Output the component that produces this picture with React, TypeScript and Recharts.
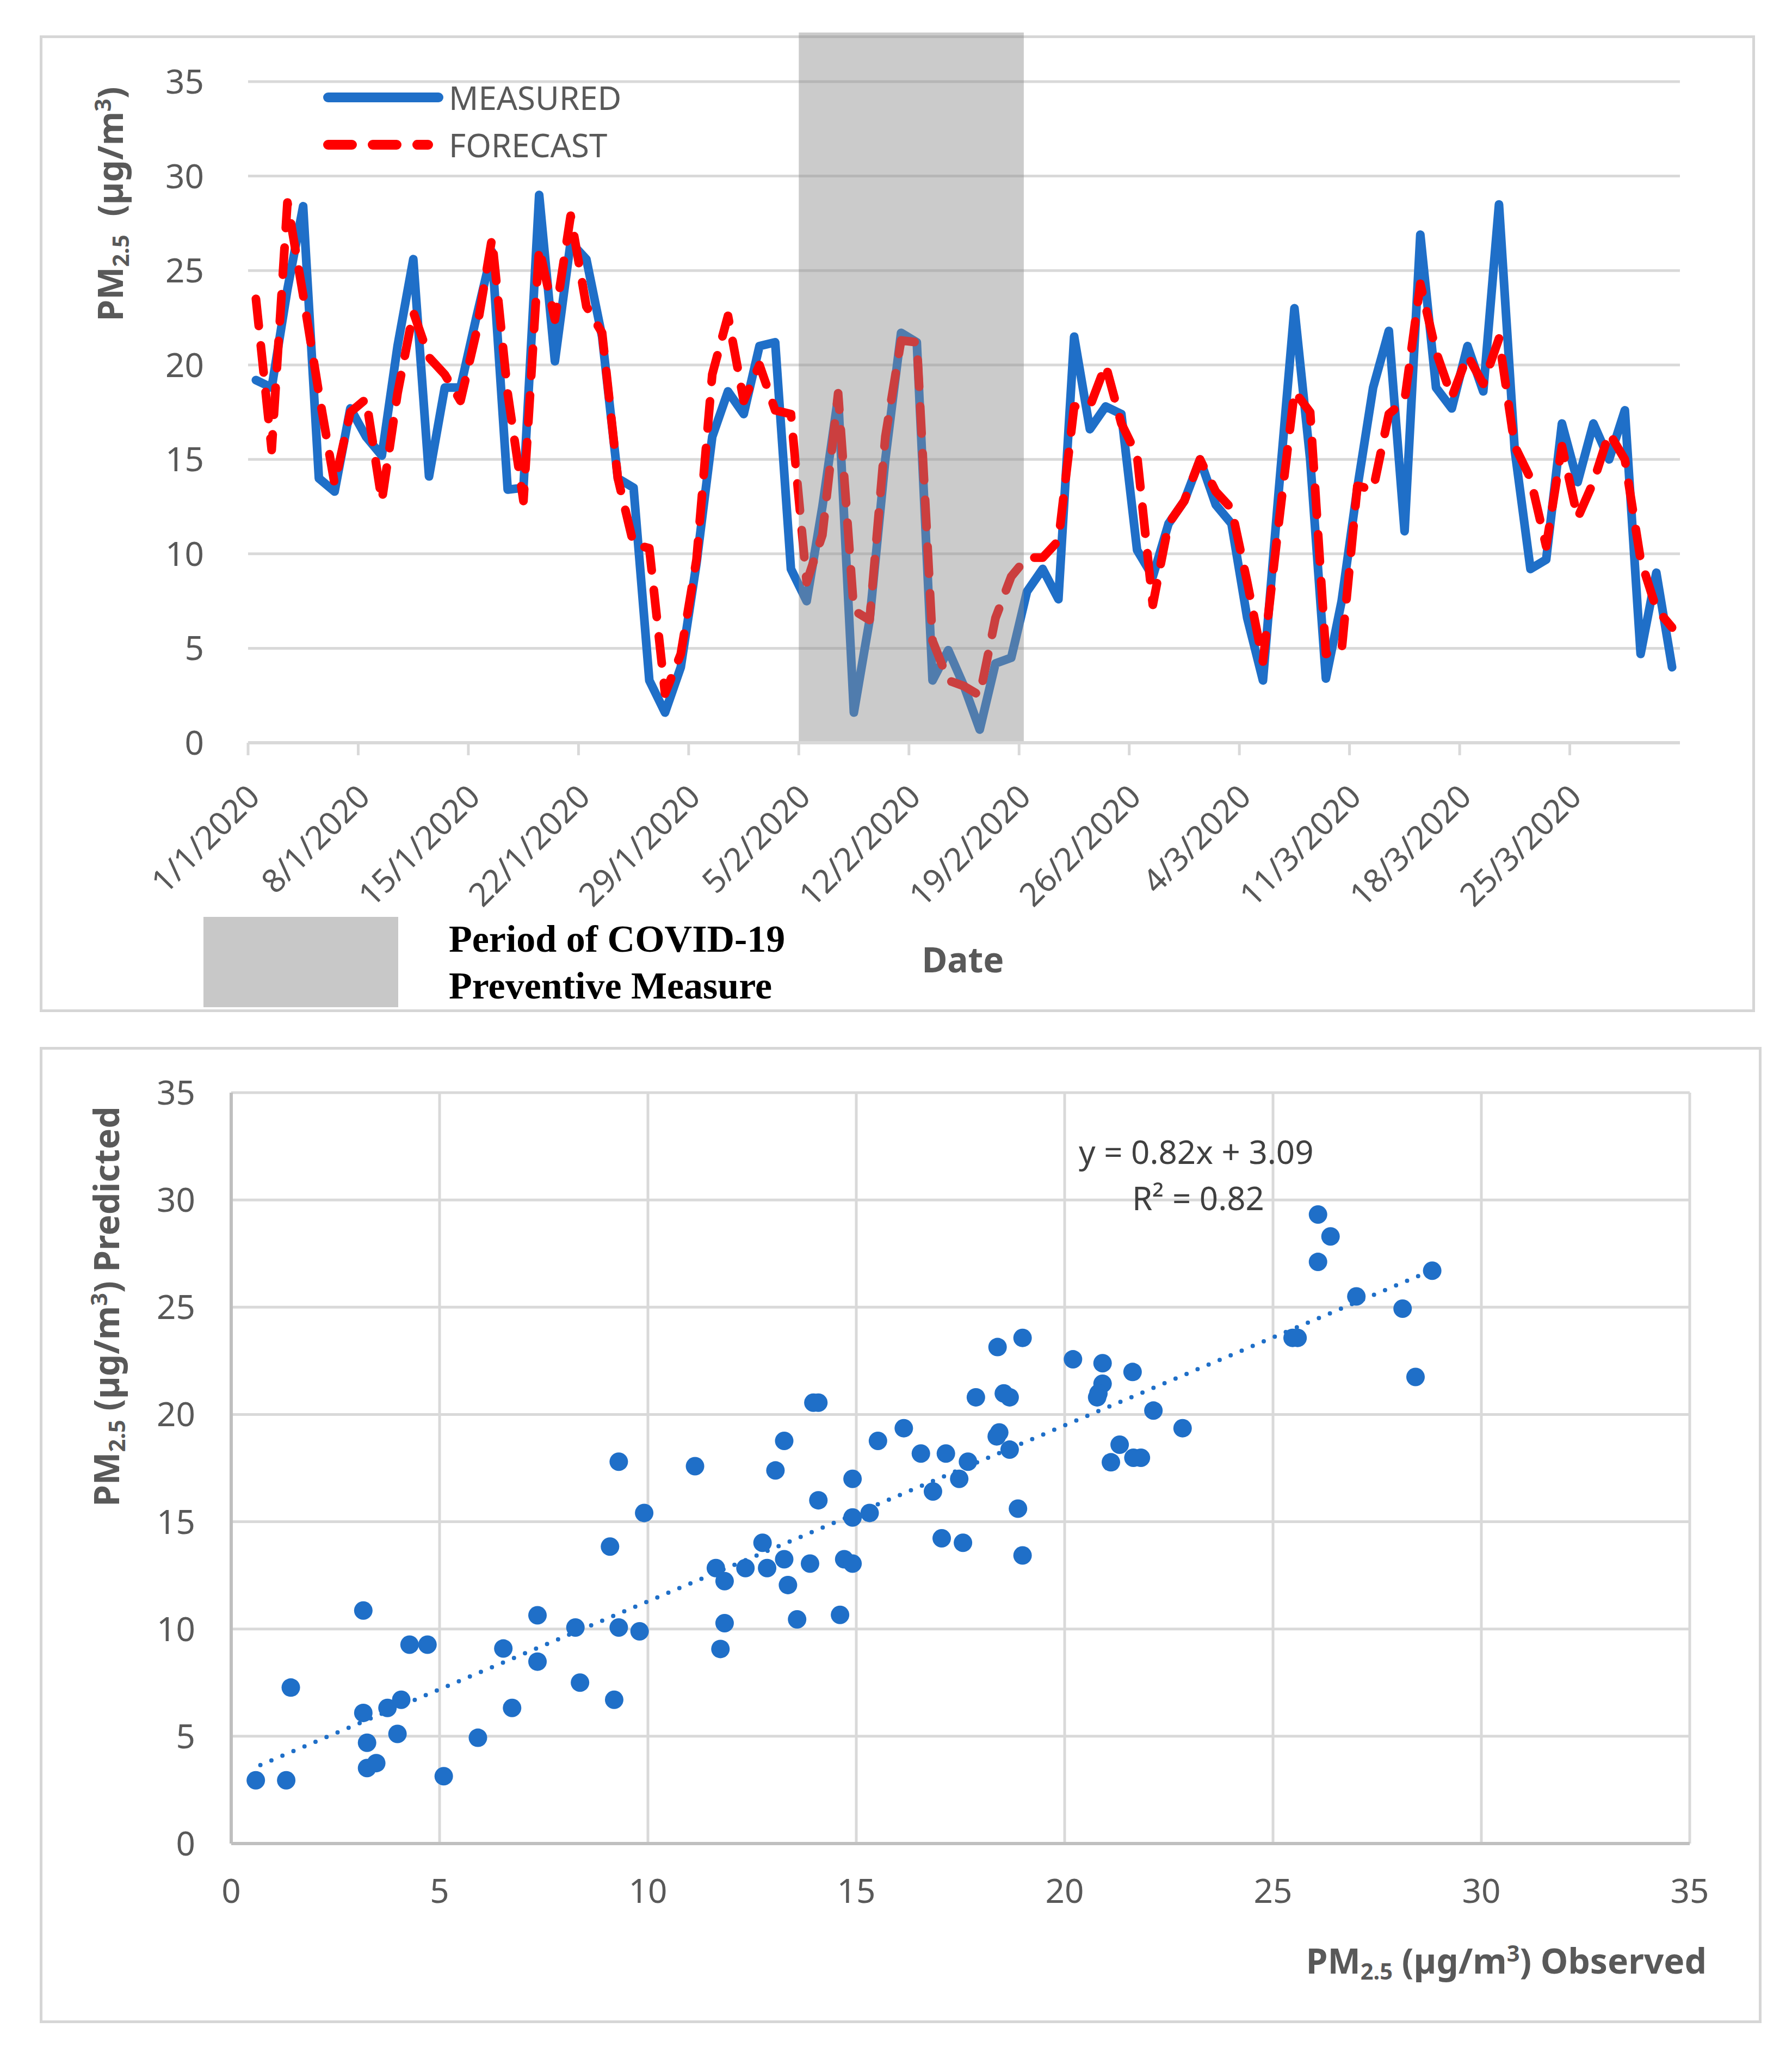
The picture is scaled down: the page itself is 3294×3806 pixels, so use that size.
import React from "react";
import {
  LineChart,
  Line,
  XAxis,
  YAxis,
  CartesianGrid,
  ReferenceArea,
  Legend,
  ScatterChart,
  Scatter,
  ReferenceLine,
} from "recharts";

// daily PM2.5, 1/1/2020 .. 31/3/2020
const measured = [
  19.2, 18.8, 24.0, 28.4, 14.0, 13.3, 17.7, 16.2, 15.2, 21.0,
  25.6, 14.1, 18.8, 18.8, 22.5, 26.0, 13.4, 13.5, 29.0, 20.2,
  26.5, 25.6, 21.5, 14.0, 13.5, 3.3, 1.6, 4.0, 9.5, 16.2,
  18.6, 17.4, 21.0, 21.2, 9.2, 7.5, 12.5, 18.3, 1.6, 6.5,
  15.0, 21.7, 21.2, 3.3, 4.9, 3.0, 0.7, 4.2, 4.5, 8.0,
  9.2, 7.6, 21.5, 16.6, 17.8, 17.4, 10.2, 8.8, 11.6, 12.8,
  15.0, 12.6, 11.6, 6.6, 3.3, 13.3, 23.0, 15.0, 3.4, 7.5,
  13.5, 18.8, 21.8, 11.2, 26.9, 18.8, 17.7, 21.0, 18.6, 28.5,
  15.5, 9.2, 9.7, 16.9, 13.8, 16.9, 15.0, 17.6, 4.7, 9.0,
  4.0,
];

const forecast = [
  23.5, 15.5, 28.6, 23.7, 18.5, 13.7, 17.5, 18.2, 12.8, 18.5,
  22.8, 20.4, 19.5, 18.1, 21.7, 26.7, 18.5, 12.8, 26.2, 22.4,
  27.9, 23.1, 21.7, 14.0, 10.5, 10.3, 2.6, 4.7, 9.7, 19.5,
  22.6, 18.1, 20.0, 17.6, 17.4, 8.5, 11.0, 18.5, 7.0, 6.5,
  16.2, 21.3, 21.2, 5.4, 3.3, 3.0, 2.5, 6.6, 8.8, 9.8,
  9.8, 10.7, 17.8, 17.8, 20.0, 16.9, 15.2, 7.3, 11.6, 12.8,
  15.0, 13.3, 12.4, 8.5, 4.3, 11.6, 18.6, 17.5, 4.7, 4.9,
  13.6, 13.4, 17.4, 18.1, 24.3, 20.7, 18.3, 20.5, 19.0, 21.4,
  15.7, 14.0, 10.4, 15.7, 11.9, 13.8, 16.4, 15.0, 9.7, 7.1,
  6.1,
];

const tickDays = [0, 7, 14, 21, 28, 35, 42, 49, 56, 63, 70, 77, 84];
const tickLabels = [
  "1/1/2020", "8/1/2020", "15/1/2020", "22/1/2020", "29/1/2020", "5/2/2020",
  "12/2/2020", "19/2/2020", "26/2/2020", "4/3/2020", "11/3/2020", "18/3/2020", "25/3/2020",
];
const valueTicks = [0, 5, 10, 15, 20, 25, 30, 35];

// covid preventive measure period, 5/2 .. 19/2
const bandStart = 35;
const bandEnd = 49.3;

// scatter: observed vs predicted
const observed = [
  0.59, 1.32, 1.43, 3.17, 3.17, 3.26, 3.26, 3.48, 3.75, 4.08,
  3.99, 4.28, 4.71, 5.10, 5.92, 6.53, 6.74, 7.35, 7.35, 8.26,
  8.37, 9.19, 9.09, 9.30, 9.30, 9.80, 9.91, 11.13, 11.63, 11.84,
  11.84, 11.74, 12.34, 12.75, 12.86, 13.27, 13.06, 13.27, 13.36, 13.58,
  13.89, 13.97, 14.09, 14.09, 14.61, 14.71, 14.91, 14.91, 14.91, 15.32,
  15.52, 16.14, 16.55, 16.84, 17.05, 17.15, 17.47, 17.56, 17.68, 17.87,
  18.39, 18.99, 18.54, 18.68, 18.43, 18.37, 18.68, 18.88, 18.99, 20.2,
  20.91, 20.91, 20.81, 20.78, 21.63, 22.13, 22.83, 21.32, 21.11, 21.65,
  21.83, 25.47, 25.59, 26.08, 26.38, 26.08, 27.0, 28.11, 28.42, 28.82,
];
const predicted = [
  2.95, 2.95, 7.27, 10.86, 6.09, 4.70, 3.52, 3.75, 6.32, 6.70,
  5.11, 9.27, 9.27, 3.14, 4.93, 9.09, 6.32, 10.64, 8.48, 10.07,
  7.5, 6.70, 13.84, 17.80, 10.07, 9.89, 15.41, 17.59, 12.84, 12.23,
  10.27, 9.07, 12.84, 14.02, 12.84, 13.25, 17.39, 18.77, 12.05, 10.45,
  13.05, 20.55, 20.55, 16.0, 10.66, 13.25, 13.05, 15.2, 17.0, 15.41,
  18.77, 19.36, 18.18, 16.41, 14.23, 18.18, 17.0, 14.02, 17.80, 20.8,
  23.14, 23.57, 20.98, 20.8, 19.16, 18.98, 18.36, 15.61, 13.43, 22.57,
  22.39, 21.43, 20.98, 20.8, 21.98, 20.18, 19.36, 18.59, 17.77, 17.98,
  17.98, 23.57, 23.57, 29.32, 28.3, 27.11, 25.5, 24.93, 21.75, 26.7,
];

// trendline end points as drawn (y = 0.82x + 3.09)
const trendStart = { x: 0.7, y: 3.66 };
const trendEnd = { x: 28.9, y: 26.79 };

const BLUE = "#1f6fc8";
const RED = "#ff0000";
const GRID = "#d9d9d9";
const LABEL = "#595959";
const FONT = "Noto Sans";

const seriesData = measured.map((m, i) => ({ day: i + 0.5, measured: m, forecast: forecast[i] }));
const scatterData = observed.map((x, i) => ({ x, y: predicted[i] }));

function DateTick({ x, y, payload }: any) {
  const label = tickLabels[tickDays.indexOf(payload.value)];
  const ax = x + 25;
  const ay = y + 78;
  return (
    <text
      x={ax}
      y={ay}
      transform={`rotate(-45 ${ax} ${ay})`}
      textAnchor="end"
      fill={LABEL}
      fontSize={60}
      fontFamily={FONT}
    >
      {label}
    </text>
  );
}

function LegendBox() {
  return (
    <svg width={800} height={220} style={{ overflow: "visible" }}>
      <line x1={13} x2={216} y1={59} y2={59} stroke={BLUE} strokeWidth={18} strokeLinecap="round" />
      <line
        x1={13}
        x2={197}
        y1={146}
        y2={146}
        stroke={RED}
        strokeWidth={18}
        strokeLinecap="round"
        strokeDasharray="44 38"
      />
      <text x={235} y={59} dominantBaseline="central" fontSize={60} fontFamily={FONT} fill={LABEL}>
        MEASURED
      </text>
      <text x={235} y={146} dominantBaseline="central" fontSize={60} fontFamily={FONT} fill={LABEL}>
        FORECAST
      </text>
    </svg>
  );
}

function Dot(props: any) {
  return <circle cx={props.cx} cy={props.cy} r={17} fill={BLUE} />;
}

const sub = { fontSize: "0.65em", verticalAlign: "-0.25em" };
const sup = { fontSize: "0.65em", verticalAlign: "0.55em" };

function Pm() {
  return (
    <>
      PM<span style={sub}>2.5</span>
    </>
  );
}

const abs = (extra: React.CSSProperties): React.CSSProperties => ({
  position: "absolute",
  whiteSpace: "nowrap",
  fontFamily: FONT,
  lineHeight: 1,
  ...extra,
});

export default function App() {
  return (
    <div style={{ position: "absolute", left: 0, top: 0, width: 3294, height: 3806, background: "#fff", overflow: "hidden" }}>
      {/* panel frames */}
      <div style={{ position: "absolute", left: 73, top: 65, width: 3153, height: 1795, border: "5px solid #d6d6d6", boxSizing: "border-box" }} />
      <div style={{ position: "absolute", left: 73, top: 1924, width: 3165, height: 1794, border: "5px solid #d6d6d6", boxSizing: "border-box" }} />

      {/* time series */}
      <div style={{ position: "absolute", left: 0, top: 0 }}>
        <LineChart width={3294} height={1900} data={seriesData} margin={{ top: 150, right: 206, bottom: 435, left: 356 }}>
          <CartesianGrid vertical={false} stroke={GRID} strokeWidth={5} />
          <XAxis
            type="number"
            dataKey="day"
            domain={[0, 91]}
            ticks={tickDays}
            interval={0}
            height={100}
            tick={<DateTick />}
            tickSize={23}
            tickLine={{ stroke: GRID, strokeWidth: 5 }}
            axisLine={{ stroke: GRID, strokeWidth: 6 }}
          />
          <YAxis
            domain={[0, 35]}
            ticks={valueTicks}
            width={100}
            axisLine={false}
            tickLine={false}
            tickSize={0}
            tickMargin={81}
            tick={{ fontSize: 62, fill: LABEL, fontFamily: FONT }}
          />
          <Line
            type="linear"
            dataKey="measured"
            stroke={BLUE}
            strokeWidth={16}
            strokeLinejoin="round"
            strokeLinecap="round"
            dot={false}
            isAnimationActive={false}
          />
          <Line
            type="linear"
            dataKey="forecast"
            stroke={RED}
            strokeWidth={16}
            strokeDasharray="50 36"
            strokeLinecap="round"
            strokeLinejoin="round"
            dot={false}
            isAnimationActive={false}
          />
          <ReferenceArea
            x1={bandStart}
            x2={bandEnd}
            y1={0}
            y2={37.6}
            ifOverflow="visible"
            fill="#8c8c8c"
            fillOpacity={0.45}
            stroke="none"
            zIndex={450}
          />
          <Legend
            layout="vertical"
            align="center"
            verticalAlign="middle"
            content={() => <LegendBox />}
            wrapperStyle={{ left: 590, top: 120, width: 800, height: 220 }}
          />
        </LineChart>
      </div>

      <div style={abs({ left: 205, top: 375, fontSize: 64, fontWeight: 700, color: LABEL, transform: "translate(-50%,-50%) rotate(-90deg)" })}>
        <Pm />
        {"\u00a0\u00a0"}(µg/m<span style={sup}>3</span>)
      </div>
      <div style={{ position: "absolute", left: 374, top: 1685, width: 358, height: 166, background: "#c8c8c8" }} />
      <div style={{ position: "absolute", left: 825, top: 1683, fontFamily: "Liberation Serif", fontWeight: 700, fontSize: 70, lineHeight: "86px", color: "#000", whiteSpace: "nowrap" }}>
        Period of COVID-19
        <br />
        Preventive Measure
      </div>
      <div style={abs({ left: 1770, top: 1763, fontSize: 64, fontWeight: 700, color: LABEL, transform: "translate(-50%,-50%)" })}>Date</div>

      {/* scatter */}
      <div style={{ position: "absolute", left: 0, top: 1900 }}>
        <ScatterChart width={3294} height={1800} margin={{ top: 108, right: 188, bottom: 212, left: 325 }}>
          <CartesianGrid stroke={GRID} strokeWidth={5} />
          <XAxis
            type="number"
            dataKey="x"
            domain={[0, 35]}
            ticks={valueTicks}
            interval={0}
            height={100}
            tickLine={false}
            tickSize={0}
            tickMargin={65}
            axisLine={{ stroke: "#bfbfbf", strokeWidth: 6 }}
            tick={{ fontSize: 62, fill: LABEL, fontFamily: FONT }}
          />
          <YAxis
            type="number"
            dataKey="y"
            domain={[0, 35]}
            ticks={valueTicks}
            interval={0}
            width={100}
            tickLine={false}
            tickSize={0}
            tickMargin={66}
            axisLine={{ stroke: "#bfbfbf", strokeWidth: 6 }}
            tick={{ fontSize: 62, fill: LABEL, fontFamily: FONT }}
          />
          <ReferenceLine
            segment={[trendStart, trendEnd]}
            stroke={BLUE}
            strokeWidth={8}
            strokeDasharray="0 22"
            strokeLinecap="round"
          />
          <Scatter data={scatterData} shape={<Dot />} isAnimationActive={false} />
        </ScatterChart>
      </div>

      <div style={abs({ left: 198, top: 2401, fontSize: 64, fontWeight: 700, color: LABEL, transform: "translate(-50%,-50%) rotate(-90deg)" })}>
        <Pm /> (µg/m<span style={sup}>3</span>) Predicted
      </div>
      <div style={abs({ left: 3137, top: 3606, fontSize: 64, fontWeight: 700, color: LABEL, transform: "translate(-100%,-50%)" })}>
        <Pm /> (µg/m<span style={sup}>3</span>) Observed
      </div>
      <div style={abs({ left: 1983, top: 2116, fontSize: 60, color: "#404040", transform: "translateY(-50%)" })}>y = 0.82x + 3.09</div>
      <div style={abs({ left: 2081, top: 2201, fontSize: 60, color: "#404040", transform: "translateY(-50%)" })}>R² = 0.82</div>
    </div>
  );
}
